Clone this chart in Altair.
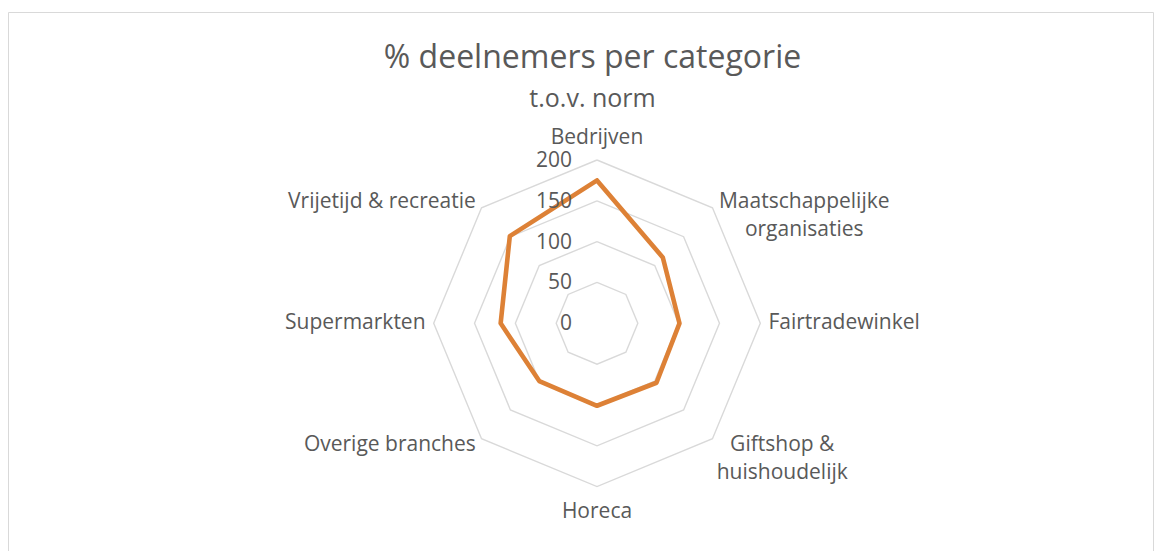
import altair as alt
import pandas as pd

# ---- data -------------------------------------------------------------
categories = [
    "Bedrijven",
    "Maatschappelijke\norganisaties",
    "Fairtradewinkel",
    "Giftshop &\nhuishoudelijk",
    "Horeca",
    "Overige branches",
    "Supermarkten",
    "Vrijetijd & recreatie",
]
values = [175, 114, 101, 103, 101, 100, 118, 151]
ticks = [0, 50, 100, 150, 200]

# ---- layout constants --------------------------------------------------
W, H = 1145, 539            # view (bordered frame)
PAD_L, PAD_T = 8, 12
K = 163.3 / 200.0           # pixels per data unit
CX, CY = 597 - PAD_L, 323.3 - PAD_T
XDOM = [-CX / K, (W - CX) / K]
YDOM = [-(H - CY) / K, CY / K]

TXT = "#595959"
FONT = "Open Sans"
ORANGE = "#DD8136"
GRID = "#D9D9D9"

n = len(categories)
ANG = "datum.i * 2 * PI / %d" % n

xs = alt.Scale(domain=XDOM, nice=False, zero=False)
ys = alt.Scale(domain=YDOM, nice=False, zero=False)

# data tables
cat_df = pd.DataFrame({"category": categories, "value": values, "i": list(range(n))})
line_df = pd.concat([cat_df, cat_df.iloc[[0]].assign(i=n)], ignore_index=True)
grid_df = pd.DataFrame(
    [{"t": t, "i": i} for t in ticks if t > 0 for i in range(n + 1)]
)
tick_df = pd.DataFrame({"t": ticks})

# grid rings
grid = (
    alt.Chart(grid_df)
    .transform_calculate(
        x="datum.t * sin(%s)" % ANG, y="datum.t * cos(%s)" % ANG
    )
    .mark_line(color=GRID, strokeWidth=1.4)
    .encode(
        x=alt.X("x:Q", scale=xs, axis=None),
        y=alt.Y("y:Q", scale=ys, axis=None),
        detail="t:N",
        order=alt.Order("i:Q"),
    )
)

# data line
series = (
    alt.Chart(line_df)
    .transform_calculate(
        x="datum.value * sin(%s)" % ANG, y="datum.value * cos(%s)" % ANG
    )
    .mark_line(color=ORANGE, strokeWidth=4.6, strokeJoin="round", strokeCap="round")
    .encode(
        x=alt.X("x:Q", scale=xs, axis=None),
        y=alt.Y("y:Q", scale=ys, axis=None),
        order=alt.Order("i:Q"),
    )
)

# tick labels
tick_labels = (
    alt.Chart(tick_df)
    .transform_calculate(x="0", y="datum.t")
    .mark_text(align="right", baseline="middle", dx=-25, dy=1,
               font=FONT, fontSize=21, color=TXT)
    .encode(
        x=alt.X("x:Q", scale=xs, axis=None),
        y=alt.Y("y:Q", scale=ys, axis=None),
        text="t:Q",
    )
)


def cat_labels(idx, radius, align, dx=0):
    return (
        alt.Chart(cat_df)
        .transform_filter(alt.FieldOneOfPredicate(field="i", oneOf=idx))
        .transform_calculate(
            x="%f * sin(%s)" % (radius, ANG), y="%f * cos(%s)" % (radius, ANG)
        )
        .mark_text(align=align, baseline="middle", dx=dx, lineBreak="\n",
                   lineHeight=28, font=FONT, fontSize=21, color=TXT)
        .encode(
            x=alt.X("x:Q", scale=xs, axis=None),
            y=alt.Y("y:Q", scale=ys, axis=None),
            text="category:N",
        )
    )


labels = [
    cat_labels([0], 227, "center"),
    cat_labels([4], 231, "center"),
    cat_labels([2], 210, "left"),
    cat_labels([5, 6, 7], 210, "right"),
    cat_labels([1], 210, "center", dx=86),
    cat_labels([3], 210, "center", dx=64),
]

chart = (
    alt.layer(grid, series, tick_labels, *labels)
    .properties(
        width=W,
        height=H,
        autosize=alt.AutoSizeParams(type="none"),
        padding={"left": PAD_L, "top": PAD_T, "right": 1162 - W - PAD_L, "bottom": 0},
        title=alt.TitleParams(
            text="% deelnemers per categorie",
            subtitle="t.o.v. norm",
            anchor="middle",
            frame="group",
            orient="top",
            offset=-101,
            dx=12,
            font=FONT,
            subtitleFont=FONT,
            fontSize=32,
            subtitleFontSize=25,
            fontWeight="normal",
            color=TXT,
            subtitleColor=TXT,
            subtitlePadding=12,
        ),
    )
    .configure_view(stroke=GRID, strokeWidth=1)
)

chart.save("out.html", embed_options={"renderer": "svg", "actions": False})
